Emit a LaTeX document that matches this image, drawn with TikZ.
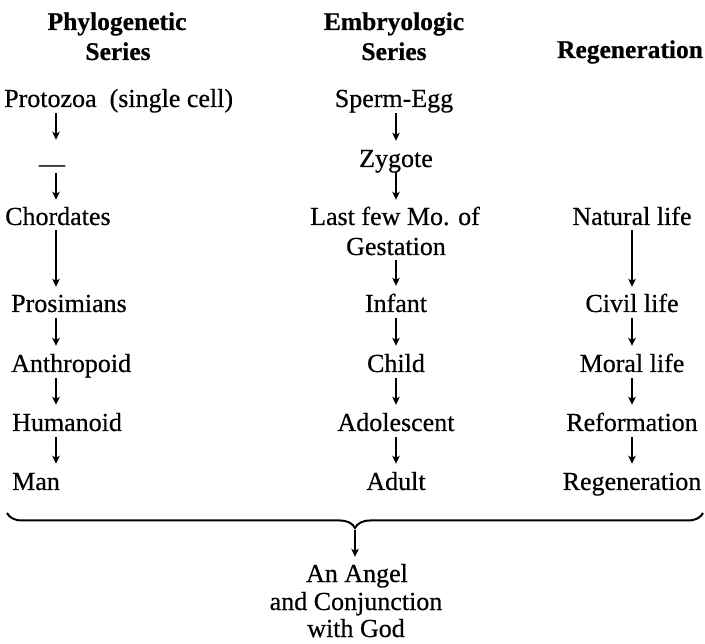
\documentclass[tikz,border=0pt]{standalone}
\usepackage{fontspec}
\setmainfont{Liberation Serif}[FakeBold=0.5]
\usetikzlibrary{arrows.meta,decorations.pathreplacing}
\begin{document}
\begin{tikzpicture}[x=1pt,y=-1pt,
  txt/.style={inner sep=0pt, text height=18pt, text depth=0pt, font=\fontsize{26}{30}\selectfont},
  hdr/.style={inner sep=0pt, text height=18pt, text depth=0pt, font=\fontsize{25.5}{30}\selectfont\bfseries},
  arr/.style={line width=1.6pt, -{Stealth[length=8pt,width=7.5pt,inset=2pt]}, shorten <=6pt, shorten >=8pt},
  bracestyle/.style={line width=2pt, decorate, decoration={brace, mirror, amplitude=15pt}}]
\useasboundingbox[fill=white] (0,0) rectangle (705,644);
% column reference points
\coordinate (lx) at (56,0);
% headers
\node[hdr] (h1a) at (117,21) {Phylogenetic};
\node[hdr] (h1b) at (118,51) {Series};
\node[hdr] (h2a) at (394,21) {Embryologic};
\node[hdr] (h2b) at (394,51) {Series};
\node[hdr] (h3) at (630,49) {Regeneration};
% left column
\node[txt, anchor=west] (proto) at (4,98) {Protozoa\ \ (single cell)};
\node[txt] (dash) at (52,163) {—};
\node[txt, anchor=west] (chord) at (5,216) {Chordates};
\node[txt, anchor=west] (prosim) at (11,303) {Prosimians};
\node[txt, anchor=west] (anthro) at (11,363) {Anthropoid};
\node[txt, anchor=west] (human) at (12,422) {Humanoid};
\node[txt, anchor=west] (man) at (12,481) {Man};
% middle column
\node[txt] (sperm) at (394,98) {Sperm-Egg};
\node[txt] (zyg) at (396,158) {Zygote};
\node[txt] (last) at (395,216) {Last few Mo. of};
\node[txt] (gest) at (396,246) {Gestation};
\node[txt] (infant) at (396,303) {Infant};
\node[txt] (child) at (396,363) {Child};
\node[txt] (adol) at (396,422) {Adolescent};
\node[txt] (adult) at (396,481) {Adult};
% right column
\node[txt] (natural) at (632,216) {Natural life};
\node[txt] (civil) at (632,303) {Civil life};
\node[txt] (moral) at (632,363) {Moral life};
\node[txt] (reform) at (632,422) {Reformation};
\node[txt] (regen) at (632,481) {Regeneration};
% bottom
\node[txt] (ang1) at (357,573) {An Angel};
\node[txt] (ang2) at (356,601) {and Conjunction};
\node[txt] (ang3) at (356,628) {with God};
% arrows left
\draw[arr, shorten >=14pt] (proto.south -| lx) -- (dash.north -| lx);
\draw[arr, shorten <=1pt, shorten >=7pt] (dash.south -| lx) -- (chord.north -| lx);
\draw[arr, shorten <=5pt, shorten >=7pt] (chord.south -| lx) -- (prosim.north -| lx);
\draw[arr] (prosim.south -| lx) -- (anthro.north -| lx);
\draw[arr] (anthro.south -| lx) -- (human.north -| lx);
\draw[arr] (human.south -| lx) -- (man.north -| lx);
% arrows middle
\draw[arr] (sperm.south -| zyg) -- (zyg.north);
\draw[arr, shorten <=5pt, shorten >=7pt] (zyg.south) -- (last.north -| zyg);
\draw[arr, shorten <=5pt] (gest.south) -- (infant.north);
\draw[arr] (infant.south) -- (child.north);
\draw[arr] (child.south) -- (adol.north);
\draw[arr] (adol.south) -- (adult.north);
% arrows right
\draw[arr, shorten <=5pt, shorten >=7pt] (natural.south) -- (civil.north);
\draw[arr] (civil.south) -- (moral.north);
\draw[arr] (moral.south) -- (reform.north);
\draw[arr] (reform.south) -- (regen.north);
% brace
\coordinate (bl) at (7,513);
\coordinate (br) at (703,513);
\coordinate (btip) at (355,529);
\draw[bracestyle] (bl) -- (br);
\draw[arr, shorten <=1pt, shorten >=7pt] (btip) -- (ang1.north -| btip);
\end{tikzpicture}
\end{document}
